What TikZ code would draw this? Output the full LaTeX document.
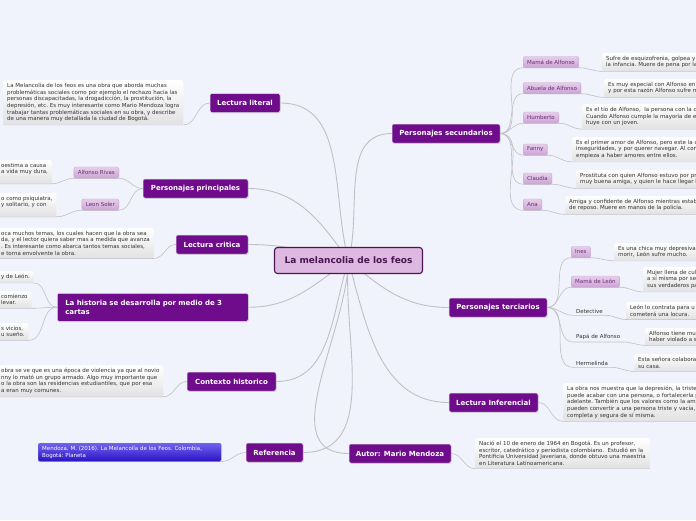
\documentclass[tikz,border=0pt]{standalone}
\usepackage{fontspec}
\newfontfamily\mapfont{DejaVu Sans}
\usetikzlibrary{backgrounds,shadows}
\definecolor{MM-BG}{RGB}{240,243,251}
\definecolor{MM-PURPLE}{RGB}{110,12,140}
\definecolor{MM-ROOT}{RGB}{221,185,226}
\definecolor{MM-ROOTLINE}{RGB}{74,21,80}
\definecolor{MM-PILLTOP}{RGB}{230,206,234}
\definecolor{MM-PILLBOT}{RGB}{204,164,212}
\definecolor{MM-PILLTEXT}{RGB}{106,44,120}
\definecolor{MM-TEXT}{RGB}{51,51,51}
\definecolor{MM-NOTEBOT}{RGB}{226,226,228}
\definecolor{MM-LINE}{RGB}{192,192,196}
\definecolor{MM-BLUETOP}{RGB}{112,98,240}
\definecolor{MM-BLUEBOT}{RGB}{44,18,196}

\newcommand\mmsmall{\mapfont\fontsize{5.5}{6.6}\selectfont\frenchspacing}
\newcommand\mmtopic{\mapfont\bfseries\fontsize{7}{8.5}\selectfont}
\newcommand\mmroot{\mapfont\bfseries\fontsize{9}{11}\selectfont}

\tikzset{
  rootbox/.style={fill=MM-ROOT, draw=MM-ROOTLINE, line width=1.1pt, rounded corners=3pt,
    text=MM-ROOTLINE, font=\mmroot, minimum width=148pt, minimum height=26pt},
  topic/.style={fill=MM-PURPLE, draw=white!75!gray, line width=0.5pt, rounded corners=2pt,
    text=white, font=\mmtopic, minimum height=19pt, inner ysep=3pt,
    drop shadow={opacity=0.25, shadow xshift=0.6pt, shadow yshift=-0.8pt}},
  pill/.style={top color=MM-PILLTOP, bottom color=MM-PILLBOT, draw=MM-PILLBOT, rounded corners=2pt,
    text=MM-PILLTEXT, font=\mmsmall, minimum height=11pt, inner xsep=4pt, inner ysep=1pt,
    drop shadow={opacity=0.15, shadow xshift=0.4pt, shadow yshift=-0.6pt}},
  leaf/.style={text=MM-TEXT, font=\mmsmall, inner xsep=3pt, inner ysep=2pt},
  note/.style={top color=white, bottom color=MM-NOTEBOT, rounded corners=2pt, align=left,
    text=MM-TEXT, font=\mmsmall, inner xsep=4pt, inner ysep=3pt, anchor=north west},
  refnote/.style={note, top color=MM-BLUETOP, bottom color=MM-BLUEBOT, draw=MM-BLUETOP, text=white},
  trunk/.style={draw=MM-LINE, line width=0.9pt},
  branch/.style={draw=MM-LINE, line width=0.6pt},
}

\begin{document}
\begin{tikzpicture}[x=1pt,y=-1pt]
  \useasboundingbox (0,0) rectangle (696,520);
  \begin{pgfonlayer}{background}
    \fill[MM-BG] (0,0) rectangle (696,520);
  \end{pgfonlayer}

  % Central topic
  \node[rootbox] (root) at (348.5,260.5) {La melancolia de los feos};

  % Main topics
  \node[topic, minimum width=70pt] (lit) at (245,103) {Lectura literal};
  \node[topic, minimum width=105pt] (princ) at (195.5,188.5) {Personajes principales};
  \node[topic, minimum width=72pt] (crit) at (212,244.5) {Lectura critica};
  \node[topic, anchor=north west, text width=175pt, align=left, inner xsep=8pt, minimum height=28pt]
    (hist) at (57,293) {La historia se desarrolla por medio de 3\\cartas};
  \node[topic, minimum width=89pt] (ctx) at (231.5,381.5) {Contexto historico};
  \node[topic, minimum width=57pt] (ref) at (274.5,452.5) {Referencia};
  \node[topic, minimum width=102pt] (aut) at (400,453.5) {Autor: Mario Mendoza};
  \node[topic, minimum width=89pt] (inf) at (493.5,402.5) {Lectura Inferencial};
  \node[topic, minimum width=98pt] (terc) at (498,307.5) {Personajes terciarios};
  \node[topic, minimum width=108pt] (sec) at (446,133.5) {Personajes secundarios};

  % Personajes secundarios
  \node[pill, anchor=west] (mamaalf) at (523,62) {Mamá de Alfonso};
  \node[pill, anchor=west] (abuela) at (523,88) {Abuela de Alfonso};
  \node[pill, anchor=west] (humb) at (523,117.5) {Humberto};
  \node[pill, anchor=west] (fanny) at (523,149.5) {Fanny};
  \node[pill, anchor=west] (claudia) at (523,178.5) {Claudia};
  \node[pill, anchor=west] (ana) at (523,204.5) {Ana};
  \node[note, text width=150pt] (mamaalf-d) at (602,53) {Sufre de esquizofrenia, golpea y\\la infancia. Muere de pena por la};
  \node[note, text width=150pt] (abuela-d) at (604,79) {Es muy especial con Alfonso en\\y por esta razón Alfonso sufre m};
  \node[note, text width=150pt] (humb-d) at (582,104) {Es el tío de Alfonso,\ \ la persona con la c\\Cuando Alfonso cumple la mayoría de e\\huye con un joven.};
  \node[note, text width=150pt] (fanny-d) at (572,137) {Es el primer amor de Alfonso, pero este la c\\inseguridades, y por querer navegar. Al con\\empieza a haber amores entre ellos.};
  \node[note, text width=150pt] (claudia-d) at (576,170) {Prostituta con quien Alfonso estuvo por pr\\muy buena amiga, y quien le hace llegar l};
  \node[note, text width=150pt] (ana-d) at (565,196) {Amiga y confidente de Alfonso mientras estab\\de reposo. Muere en manos de la policía.};

  % Personajes terciarios
  \node[pill, anchor=west] (ines) at (571,252) {Ines};
  \node[pill, anchor=west] (mamaleon) at (571,281.5) {Mamá de León};
  \node[leaf, anchor=west] (detec) at (573,311) {Detective};
  \node[leaf, anchor=west] (papa) at (573,337) {Papá de Alfonso};
  \node[leaf, anchor=west] (herm) at (573,363) {Hermelinda};
  \node[note, text width=150pt] (ines-d) at (614,243) {Es una chica muy depresiva\\morir, León sufre mucho.};
  \node[note, text width=150pt] (mamaleon-d) at (643,267) {Mujer llena de cul\\a sí misma por se\\sus verdaderos pa};
  \node[note, text width=150pt] (detec-d) at (626,302) {León lo contrata para u\\cometerá una locura.};
  \node[note, text width=150pt] (papa-d) at (645,328) {Alfonso tiene mu\\haber violado a s};
  \node[note, text width=150pt] (herm-d) at (634,354) {Esta señora colabora\\su casa.};

  % Lectura inferencial and autor
  \node[note, text width=150pt] (inf-d) at (563,383) {La obra nos muestra que la depresión, la triste\\puede acabar con una persona, o fortalecerla p\\adelante. También que los valores como la ami\\pueden convertir a una persona triste y vacía, e\\completa y segura de sí misma.};
  \node[note] (aut-d) at (475,438) {Nació el 10 de enero de 1964 en Bogotá. Es un profesor,\\escritor, catedrático y periodista colombiano.\ \ Estudió en la\\Pontificia Universidad Javeriana, donde obtuvo una maestría\\en Literatura Latinoamericana.};

  % Referencia
  \node[refnote, text width=175pt] (ref-d) at (38,443) {Mendoza, M. (2016). La Melancolía de los Feos. Colombia,\\Bogotá: Planeta};

  % Left side notes
  \node[note] (lit-d) at (3,80) {La Melancolía de los feos es una obra que aborda muchas\\problemáticas sociales como por ejemplo el rechazo hacia las\\personas discapacitadas, la drogadicción, la prostitución, la\\depresión, etc. Es muy interesante como Mario Mendoza logra\\trabajar tantas problemáticas sociales en su obra, y describe\\de una manera muy detallada la ciudad de Bogotá.};
  \node[pill, anchor=east] (alf) at (119,172.5) {Alfonso Rivas};
  \node[pill, anchor=east] (leon) at (119,204.5) {Leon Soler};
  \node[note] (alf-d) at (-3,160) {oestima a causa\\a vida muy dura,\\\mbox{}};
  \node[note] (leon-d) at (-3,193) {o como psiquiatra,\\y solitario, y con\\\mbox{}};
  \node[note] (crit-d) at (-3,228) {oca muchos temas, los cuales hacen que la obra sea\\da, y el lector quiera saber mas a medida que avanza\\. Es interesante como abarca tantos temas sociales,\\e torna envolvente la obra.};
  \node[note] (hist-a) at (-3,271) {y de León.};
  \node[note] (hist-b) at (-3,291) {comienzo\\levar.};
  \node[note] (hist-c) at (-3,323) {s vicios,\\u sueño.};
  \node[note] (ctx-d) at (-3,365) {obra se ve que es una época de violencia ya que al novio\\nny lo mató un grupo armado. Algo muy importante que\\o la obra son las residencias estudiantiles, que por esa\\a eran muy comunes.};

  \begin{pgfonlayer}{background}
    % Root to main topics
    \draw[trunk] (root.center) to[out=105, in=0] (lit.east);
    \draw[trunk] (root.center) to[out=125, in=0] (princ.east);
    \draw[trunk] (root.center) to[out=168, in=0] (crit.east);
    \draw[trunk] (root.center) to[out=215, in=0] (hist.east);
    \draw[trunk] (root.center) to[out=252, in=0] (ctx.east);
    \draw[trunk] (root.center) to[out=265, in=0] (ref.east);
    \draw[trunk] (root.center) to[out=268, in=180] (aut.west);
    \draw[trunk] (root.center) to[out=285, in=180] (inf.west);
    \draw[trunk] (root.center) to[out=320, in=180] (terc.west);
    \draw[trunk] (root.center) to[out=75, in=180] (sec.west);

    % Personajes secundarios
    \draw[branch] (sec.east) to[out=0, in=180] (mamaalf.south west) -- (mamaalf.south east) to[out=0, in=180] (mamaalf-d.south west) -- (mamaalf-d.south east);
    \draw[branch] (sec.east) to[out=0, in=180] (abuela.south west) -- (abuela.south east) to[out=0, in=180] (abuela-d.south west) -- (abuela-d.south east);
    \draw[branch] (sec.east) to[out=0, in=180] (humb.south west) -- (humb.south east) to[out=0, in=180] (humb-d.south west) -- (humb-d.south east);
    \draw[branch] (sec.east) to[out=0, in=180] (fanny.south west) -- (fanny.south east) to[out=0, in=180] (fanny-d.south west) -- (fanny-d.south east);
    \draw[branch] (sec.east) to[out=0, in=180] (claudia.south west) -- (claudia.south east) to[out=0, in=180] (claudia-d.south west) -- (claudia-d.south east);
    \draw[branch] (sec.east) to[out=0, in=180] (ana.south west) -- (ana.south east) to[out=0, in=180] (ana-d.south west) -- (ana-d.south east);

    % Personajes terciarios
    \draw[branch] (terc.east) to[out=0, in=180] (ines.south west) -- (ines.south east) to[out=0, in=180] (ines-d.south west) -- (ines-d.south east);
    \draw[branch] (terc.east) to[out=0, in=180] (mamaleon.south west) -- (mamaleon.south east) to[out=0, in=180] (mamaleon-d.south west) -- (mamaleon-d.south east);
    \draw[branch] (terc.east) to[out=0, in=180] (detec.south west) -- (detec.south east) to[out=0, in=180] (detec-d.south west) -- (detec-d.south east);
    \draw[branch] (terc.east) to[out=0, in=180] (papa.south west) -- (papa.south east) to[out=0, in=180] (papa-d.south west) -- (papa-d.south east);
    \draw[branch] (terc.east) to[out=0, in=180] (herm.south west) -- (herm.south east) to[out=0, in=180] (herm-d.south west) -- (herm-d.south east);

    % Right side notes
    \draw[branch] (inf.east) to[out=0, in=180] (inf-d.south west) -- (inf-d.south east);
    \draw[branch] (aut.east) to[out=0, in=180] (aut-d.south west) -- (aut-d.south east);

    % Left side notes
    \draw[branch] (lit.west) to[out=180, in=0] (lit-d.south east) -- (lit-d.south west);
    \draw[branch] (princ.west) to[out=180, in=0] (alf.south east) -- (alf.south west) to[out=180, in=0] (alf-d.south east) -- (alf-d.south west);
    \draw[branch] (princ.west) to[out=180, in=0] (leon.south east) -- (leon.south west) to[out=180, in=0] (leon-d.south east) -- (leon-d.south west);
    \draw[branch] (crit.west) to[out=180, in=0] (crit-d.south east) -- (crit-d.south west);
    \draw[branch] (hist.west) to[out=180, in=0] (hist-a.south east) -- (hist-a.south west);
    \draw[branch] (hist.west) to[out=180, in=0] (hist-b.south east) -- (hist-b.south west);
    \draw[branch] (hist.west) to[out=180, in=0] (hist-c.south east) -- (hist-c.south west);
    \draw[branch] (ctx.west) to[out=180, in=0] (ctx-d.south east) -- (ctx-d.south west);
    \draw[branch] (ref.west) to[out=180, in=0] (ref-d.south east) -- (ref-d.south west);
  \end{pgfonlayer}
\end{tikzpicture}
\end{document}
